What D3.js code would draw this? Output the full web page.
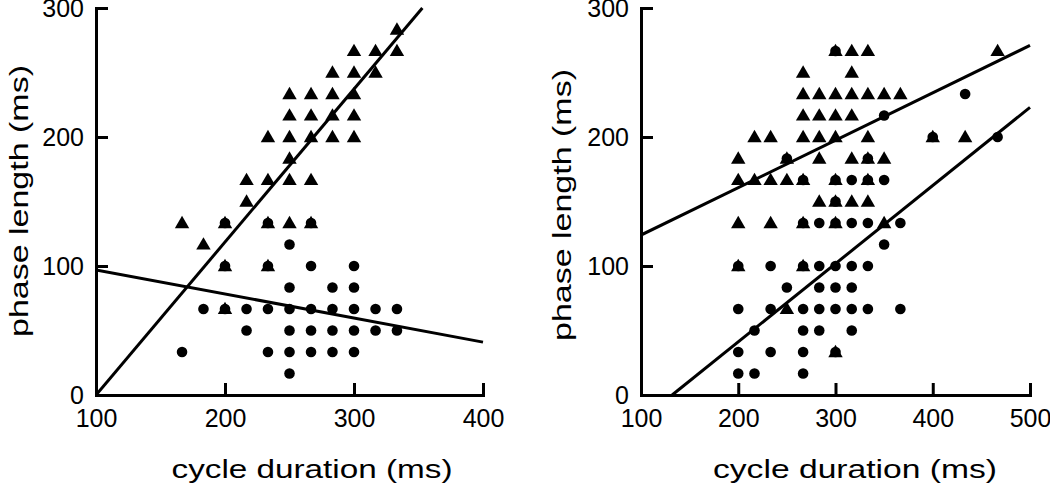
<!DOCTYPE html>
<html>
<head>
<meta charset="utf-8">
<script src="https://cdn.jsdelivr.net/npm/d3@7"></script>
<style>
  html, body { margin: 0; padding: 0; background: #fff; }
  svg { display: block; }
  .tick text { font-family: "Liberation Sans Narrow", "Arial Narrow", "Liberation Sans", sans-serif; font-size: 25px; fill: #000; }
  .title { font-family: "Liberation Sans", Arial, sans-serif; font-size: 25px; fill: #000; }
</style>
</head>
<body>
<svg id="chart" width="1050" height="491"></svg>
<script>
// ---------- data ----------
// Left panel
const leftXTicks = [100, 200, 300, 400];
const leftYTicks = [0, 100, 200, 300];
const leftTriangles = [
  [333.3,283.3],[300,266.7],[316.7,266.7],[333.3,266.7],[283.3,250],[300,250],[316.7,250],
  [250,233.3],[266.7,233.3],[283.3,233.3],[300,233.3],
  [250,216.7],[266.7,216.7],[283.3,216.7],[300,216.7],
  [233.3,200],[250,200],[266.7,200],[283.3,200],[300,200],
  [250,183.3],
  [216.7,166.7],[233.3,166.7],[250,166.7],[266.7,166.7],
  [216.7,150],
  [166.7,133.3],[200,133.3],[233.3,133.3],[250,133.3],[266.7,133.3],
  [183.3,116.7],[200,100],[233.3,100],[200,66.7]
];
const leftCircles = [
  [200,133.3],[233.3,133.3],[266.7,133.3],[250,116.7],
  [200,100],[233.3,100],[266.7,100],[300,100],
  [250,83.3],[283.3,83.3],[300,83.3],
  [183.3,66.7],[200,66.7],[216.7,66.7],[233.3,66.7],[250,66.7],[266.7,66.7],[283.3,66.7],[300,66.7],[316.7,66.7],[333.3,66.7],
  [216.7,50],[250,50],[266.7,50],[283.3,50],[300,50],[316.7,50],[333.3,50],
  [166.7,33.3],[233.3,33.3],[250,33.3],[266.7,33.3],[283.3,33.3],[300,33.3],
  [250,16.7]
];
const leftTriFit = [[100,0],[353,300]];
const leftCircFit = [[100,97],[400,41]];

// Right panel
const rightXTicks = [100, 200, 300, 400, 500];
const rightYTicks = [0, 100, 200, 300];
const rightTriangles = [
  [300,266.7],[316.7,266.7],[333.3,266.7],[466.7,266.7],
  [266.7,250],[316.7,250],
  [266.7,233.3],[283.3,233.3],[300,233.3],[316.7,233.3],[333.3,233.3],[350,233.3],[366.7,233.3],
  [266.7,216.7],[283.3,216.7],[300,216.7],[316.7,216.7],
  [216.7,200],[233.3,200],[266.7,200],[283.3,200],[300,200],[333.3,200],[400,200],[433.3,200],
  [200,183.3],[250,183.3],[283.3,183.3],[316.7,183.3],[333.3,183.3],[350,183.3],
  [200,166.7],[216.7,166.7],[233.3,166.7],[250,166.7],[266.7,166.7],[300,166.7],[333.3,166.7],
  [283.3,150],[300,150],[316.7,150],[333.3,150],
  [200,133.3],[233.3,133.3],[266.7,133.3],[300,133.3],[350,133.3],
  [200,100],[266.7,100],
  [250,66.7],
  [300,33.3]
];
const rightCircles = [
  [300,266.7],[433.3,233.3],[350,216.7],[400,200],[466.7,200],
  [250,183.3],[333.3,183.3],
  [266.7,166.7],[300,166.7],[316.7,166.7],[333.3,166.7],[350,166.7],
  [300,150],
  [266.7,133.3],[283.3,133.3],[300,133.3],[316.7,133.3],[333.3,133.3],[366.7,133.3],
  [350,116.7],
  [200,100],[233.3,100],[266.7,100],[283.3,100],[300,100],[316.7,100],[333.3,100],
  [250,83.3],[283.3,83.3],[300,83.3],[316.7,83.3],
  [200,66.7],[233.3,66.7],[266.7,66.7],[283.3,66.7],[300,66.7],[316.7,66.7],[333.3,66.7],[366.7,66.7],
  [216.7,50],[266.7,50],[283.3,50],[316.7,50],
  [200,33.3],[233.3,33.3],[266.7,33.3],[300,33.3],
  [200,16.7],[216.7,16.7],[266.7,16.7]
];
const rightTriFit = [[100,124],[500,271]];
const rightCircFit = [[132,0],[500,223]];

const xTitle = "cycle duration (ms)";
const yTitle = "phase length (ms)";

// ---------- drawing ----------
const svg = d3.select("#chart");

function panel(cfg) {
  const x = d3.scaleLinear().domain(cfg.xDomain).range(cfg.xRange);
  const y = d3.scaleLinear().domain([0, 300]).range([395, 8]);
  const g = svg.append("g");

  const clipId = "clip" + cfg.id;
  svg.append("clipPath").attr("id", clipId).append("rect")
    .attr("x", cfg.xRange[0]).attr("y", 0)
    .attr("width", cfg.xRange[1] - cfg.xRange[0] + 4).attr("height", 397);

  g.selectAll("circle.c").data(cfg.circles).enter().append("circle")
    .attr("cx", d => x(d[0])).attr("cy", d => y(d[1])).attr("r", 5.3).attr("fill", "#000");
  const tri = d3.symbol().type(d3.symbolTriangle).size(90);
  g.selectAll("path.t").data(cfg.triangles).enter().append("path")
    .attr("d", tri)
    .attr("transform", d => `translate(${x(d[0])},${y(d[1]) + 1})`)
    .attr("fill", "#000");

  const line = d3.line().x(d => x(d[0])).y(d => y(d[1]));
  [cfg.triFit, cfg.circFit].forEach(f => {
    g.append("path").attr("d", line(f)).attr("fill", "none")
      .attr("stroke", "#000").attr("stroke-width", 3).attr("clip-path", `url(#${clipId})`);
  });

  const xAxis = d3.axisBottom(x).tickValues(cfg.xTicks).tickSizeInner(-12).tickSizeOuter(0).tickPadding(14);
  const yAxis = d3.axisLeft(y).tickValues(cfg.yTicks).tickSizeInner(-12).tickSizeOuter(0).tickPadding(12);
  const gx = svg.append("g").attr("transform", "translate(0,395)").call(xAxis);
  const gy = svg.append("g").attr("transform", `translate(${cfg.xRange[0]},0)`).call(yAxis);
  [gx, gy].forEach(a => {
    a.select(".domain").attr("stroke", "#000").attr("stroke-width", 3).attr("stroke-linecap", "square");
    a.selectAll(".tick line").attr("stroke", "#000").attr("stroke-width", 3);
    a.selectAll(".tick text").attr("fill", "#000");
  });
  gx.selectAll(".tick text").attr("dy", "0.71em");

  svg.append("text").attr("class", "title")
    .attr("x", cfg.xTitleX).attr("y", 478).attr("text-anchor", "middle")
    .attr("textLength", cfg.xTitleLen).attr("lengthAdjust", "spacingAndGlyphs")
    .text(xTitle);
  svg.append("text").attr("class", "title")
    .attr("transform", `translate(${cfg.yTitleX},${cfg.yTitleY}) rotate(-90)`)
    .attr("text-anchor", "middle")
    .attr("textLength", 272).attr("lengthAdjust", "spacingAndGlyphs")
    .text(yTitle);
}

panel({ id: "L", xDomain: [100, 400], xRange: [96, 483], xTicks: leftXTicks, yTicks: leftYTicks,
  triangles: leftTriangles, circles: leftCircles, triFit: leftTriFit, circFit: leftCircFit,
  xTitleX: 312, xTitleLen: 281, yTitleX: 28, yTitleY: 201 });
panel({ id: "R", xDomain: [100, 500], xRange: [641, 1030], xTicks: rightXTicks, yTicks: rightYTicks,
  triangles: rightTriangles, circles: rightCircles, triFit: rightTriFit, circFit: rightCircFit,
  xTitleX: 855, xTitleLen: 284, yTitleX: 571, yTitleY: 205 });
</script>
</body>
</html>
